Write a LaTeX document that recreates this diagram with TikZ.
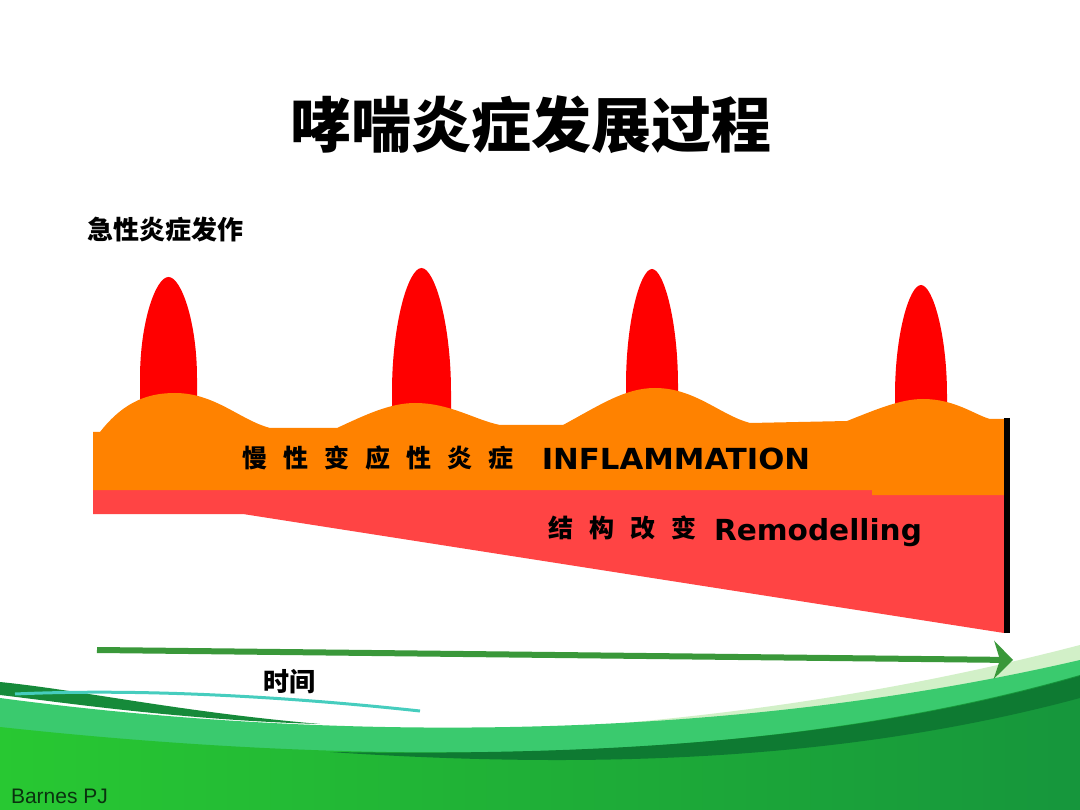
\documentclass[tikz,border=0pt]{standalone}
\usepackage{fontspec}
\usetikzlibrary{arrows.meta}
\newfontfamily\cjk{Noto Sans CJK SC}
\newfontfamily\dv{DejaVu Sans}
\newfontfamily\ls{Liberation Sans}
\definecolor{spikered}{RGB}{255,0,0}
\definecolor{inflorange}{RGB}{255,130,0}
\definecolor{remred}{RGB}{255,68,68}
\definecolor{arrowgreen}{RGB}{58,152,58}
\definecolor{palegreen}{RGB}{210,240,200}
\definecolor{tealgreen}{RGB}{58,202,110}
\definecolor{darkstripe}{RGB}{14,122,50}
\definecolor{leftstripe}{RGB}{22,138,58}
\definecolor{thinteal}{RGB}{70,205,190}
\definecolor{bodyleft}{RGB}{40,200,50}
\definecolor{bodyright}{RGB}{22,150,60}
\definecolor{authorcol}{RGB}{10,50,15}
\newcommand\myspike[4]{%
  \fill[spikered] (#1,#3) .. controls ({#1+0.45*#2},#3) and ({#1+#2},{#3+0.45*(#4-#3)}) .. ({#1+#2},#4)
    -- ({#1+#2},{#4+50}) -- ({#1-#2},{#4+50}) -- ({#1-#2},#4)
    .. controls ({#1-#2},{#3+0.45*(#4-#3)}) and ({#1-0.45*#2},#3) .. (#1,#3) -- cycle;}
\newcommand\gp{\hspace{16pt}}
\tikzset{
  cjktext/.style={inner sep=0pt, anchor=base, font=\cjk},
  entext/.style={inner sep=0pt, anchor=base, font=\dv\bfseries\fontsize{29}{32}\selectfont},
}
\begin{document}
\begin{tikzpicture}[x=1pt,y=-1pt]
\useasboundingbox (0,0) rectangle (1080,810);
\fill[white] (0,0) rectangle (1080,810);

% bottom decorative swoosh (layered from top to bottom)
\fill[palegreen] (350,735) .. controls (600,735) and (850,705) .. (1080,645) -- (1080,810) -- (350,810) -- cycle;
\fill[tealgreen] (0,698) .. controls (300,738) and (700,748) .. (1080,660) -- (1080,810) -- (0,810) -- cycle;
\shade[left color=bodyleft, right color=bodyright]
  (0,727) .. controls (350,765) and (750,770) .. (1080,675) -- (1080,810) -- (0,810) -- cycle;
\fill[darkstripe] (330,752) .. controls (600,756) and (850,742) .. (1080,676)
  -- (1080,698) .. controls (850,760) and (600,770) .. (330,752) -- cycle;
\fill[leftstripe] (0,682) .. controls (80,690) and (180,712) .. (320,724)
  .. controls (180,720) and (60,702) .. (0,695) -- cycle;
\draw[thinteal, line width=3pt] (15,694) .. controls (150,688) and (300,698) .. (420,711);

% spikes (acute attacks)
\myspike{168.5}{28.5}{277}{378}
\myspike{421.5}{29.5}{268}{392}
\myspike{652}{26}{269}{385}
\myspike{921}{26}{285}{395}

% remodelling wedge
\fill[remred] (93,490) -- (1004,490) -- (1004,633) -- (243,514) -- (93,514) -- cycle;
% chronic inflammation band
\fill[inflorange] (93,432) -- (100,432) .. controls (125,400) and (150,393) .. (175,393)
  .. controls (215,393) and (240,420) .. (270,428) -- (337,428)
  .. controls (365,415) and (390,403) .. (415,403)
  .. controls (450,403) and (475,420) .. (500,425) -- (563,425)
  .. controls (600,405) and (625,388) .. (655,388)
  .. controls (695,388) and (720,415) .. (750,423) -- (847,421)
  .. controls (875,410) and (900,399) .. (923,399)
  .. controls (955,399) and (975,415) .. (990,419) -- (1004,419)
  -- (1004,495) -- (872,495) -- (872,490) -- (93,490) -- cycle;

% end bar
\coordinate (bartop) at (1007,418);
\coordinate (barbot) at (1007,633);
\draw[black, line width=6pt] (bartop) -- (barbot);

% time arrow
\coordinate (tstart) at (97,650);
\coordinate (tend) at (1013,660);
\draw[arrowgreen, line width=6pt, -{Stealth[length=19pt, width=38pt, inset=6pt]}] (tstart) -- (tend);

% texts
\node[cjktext, font=\cjk\bfseries\fontsize{60}{62}\selectfont] (title) at (531,148) {哮喘炎症发展过程};
\node[cjktext, font=\cjk\bfseries\fontsize{26}{28}\selectfont] (acute) at (165.5,240) {急性炎症发作};
\node[cjktext, font=\cjk\bfseries\fontsize{25}{27}\selectfont] (chronic) at (378,467.5) {慢\gp 性\gp 变\gp 应\gp 性\gp 炎\gp 症};
\node[entext] (infl) at (676,469) {\scalebox{1.06}[1]{INFLAMMATION}};
\node[cjktext, font=\cjk\bfseries\fontsize{25}{27}\selectfont] (struct) at (622,537.5) {结\gp 构\gp 改\gp 变};
\node[entext] (remod) at (818,540) {\scalebox{1.02}[1]{Remodelling}};
\node[cjktext, font=\cjk\bfseries\fontsize{26}{28}\selectfont] (time) at (289,691) {时间};
\node[inner sep=0pt, anchor=base, font=\ls\fontsize{21}{23}\selectfont, text=authorcol] (author) at (59.5,803) {Barnes PJ};
\end{tikzpicture}
\end{document}
